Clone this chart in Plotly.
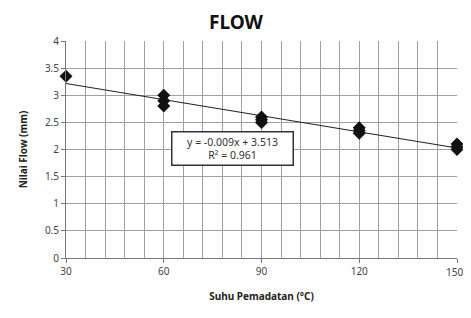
import numpy as np
import plotly.graph_objects as go

suhu = [30, 60, 60, 60, 90, 90, 90, 120, 120, 120, 150, 150, 150]
flow = [3.35, 3.0, 2.9, 2.8, 2.6, 2.55, 2.5, 2.4, 2.35, 2.3, 2.1, 2.05, 2.0]
x_ticks = [30, 60, 90, 120, 150]
x_labels = ["30", "60", "90", "120", "150"]
y_ticks = [0, 0.5, 1, 1.5, 2, 2.5, 3, 3.5, 4]
y_labels = ["0", "0.5", "1", "1.5", "2", "2.5", "3", "3.5", "4"]
eq_text = "y = -0.009x + 3.513<br>R² = 0.961"

slope, intercept = np.polyfit(suhu, flow, 1)
trend_x = [30, 150]
trend_y = [slope * v + intercept for v in trend_x]

fig = go.Figure()
fig.add_trace(go.Scatter(x=trend_x, y=trend_y, mode="lines",
                         line=dict(color="#222222", width=1.2), showlegend=False))
fig.add_trace(go.Scatter(x=suhu, y=flow, mode="markers",
                         marker=dict(symbol="diamond", size=10, color="#111111"),
                         showlegend=False, cliponaxis=False))

fig.add_annotation(x=81, y=2.02, xref="x", yref="y", text=eq_text, showarrow=False,
                   font=dict(family="Noto Sans", size=10.5, color="#333333"),
                   bgcolor="white", bordercolor="#333333", borderwidth=1.5, borderpad=2,
                   width=116, align="center")

# last x tick label sits at the page edge: draw it as an annotation nudged inward
fig.add_annotation(x=x_ticks[-1], y=0, xref="x", yref="paper", text=x_labels[-1],
                   showarrow=False, xanchor="center", yanchor="top", xshift=-3, yshift=-5,
                   font=dict(family="Noto Sans", size=10, color="#444444"))

# body has an 8px default margin in the page; compensate (keep page from scrolling)
fig.update_layout(
    width=456, height=302,
    margin=dict(l=58, r=7, t=33, b=52),
    paper_bgcolor="white", plot_bgcolor="white",
    title=dict(text="<b>FLOW</b>", x=0.5, xanchor="center", y=0.953, yanchor="middle",
               font=dict(family="Noto Sans", size=19, color="#111111")),
)
fig.update_xaxes(range=[30, 150], tickvals=x_ticks, ticktext=x_labels[:-1] + [""],
                 automargin=False,
                 showgrid=True, gridcolor="#a0a0a0", gridwidth=1,
                 minor=dict(dtick=6, tick0=30, showgrid=True, gridcolor="#a0a0a0", gridwidth=1),
                 showline=True, linecolor="#777777", linewidth=1,
                 ticks="outside", ticklen=4, tickcolor="#777777",
                 tickfont=dict(family="Noto Sans", size=10, color="#444444"),
                 title=dict(text="<b>Suhu Pemadatan (°C)</b>",
                            font=dict(family="Noto Sans", size=10, color="#222222")),
                 zeroline=False)
fig.update_yaxes(range=[0, 4], tickvals=y_ticks, ticktext=y_labels,
                 automargin=False,
                 showgrid=True, gridcolor="#a0a0a0", gridwidth=1,
                 showline=True, linecolor="#777777", linewidth=1,
                 ticks="outside", ticklen=4, tickcolor="#777777",
                 tickfont=dict(family="Noto Sans", size=10, color="#444444"),
                 title=dict(text="<b>Nilai Flow (mm)</b>",
                            font=dict(family="Noto Sans", size=10, color="#222222")),
                 zeroline=False)

fig.write_html("out.html")
